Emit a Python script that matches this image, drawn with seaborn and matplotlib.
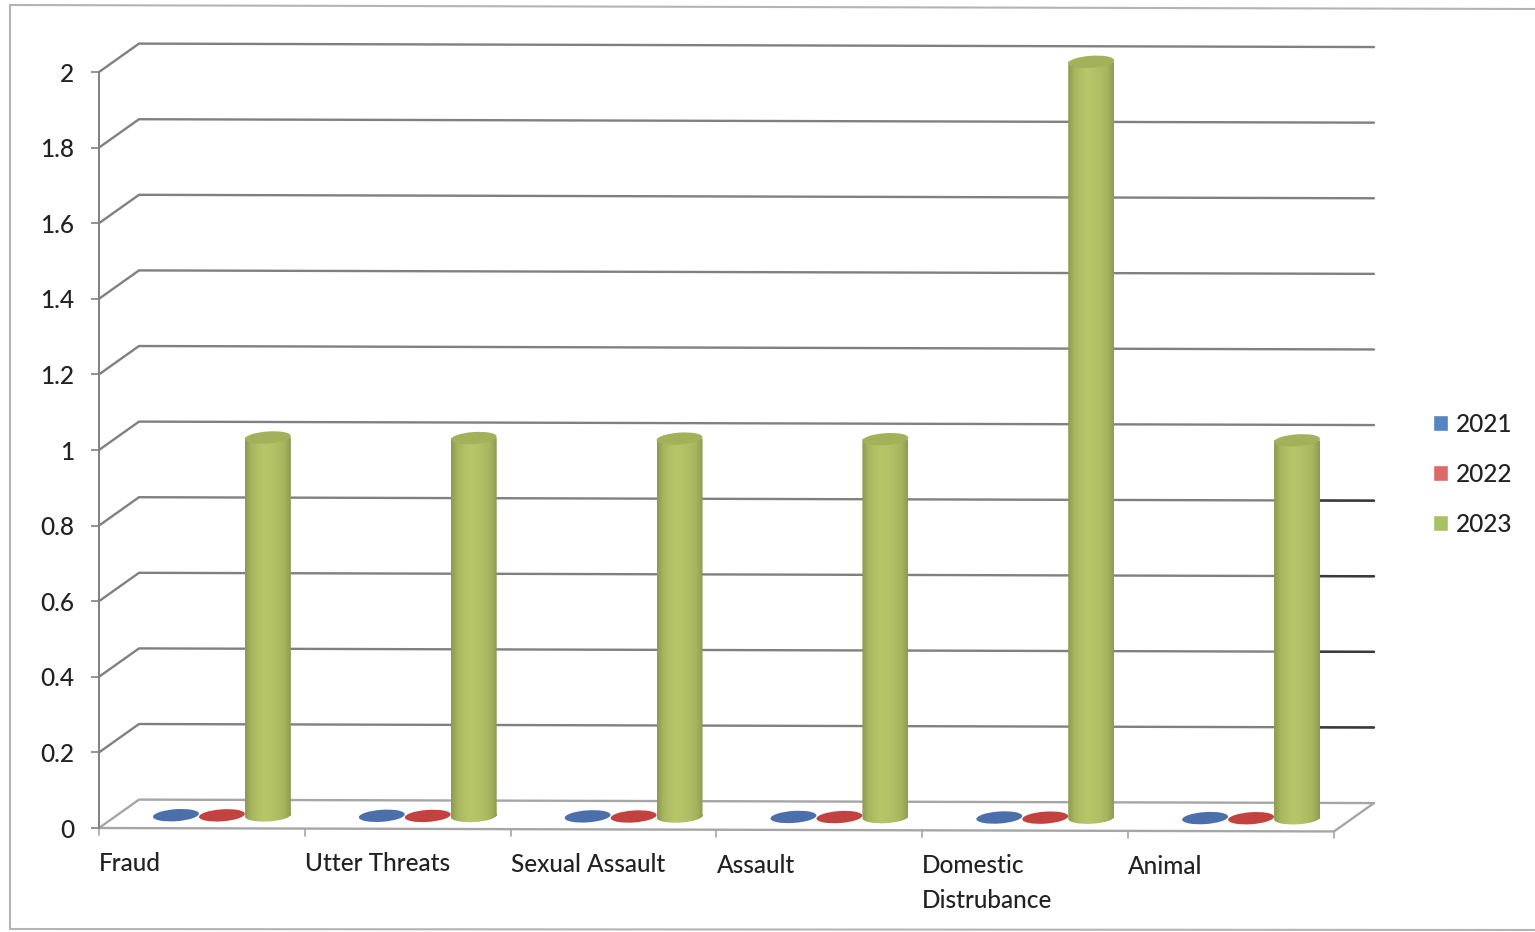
import numpy as np
import pandas as pd
import seaborn as sns
import matplotlib
matplotlib.use("Agg")
import matplotlib.pyplot as plt
from matplotlib.colors import LinearSegmentedColormap
from matplotlib.lines import Line2D
from matplotlib.patches import Ellipse
from matplotlib.path import Path
from matplotlib.transforms import Affine2D, IdentityTransform

# Incident counts per category and year
categories = ["Fraud", "Utter Threats", "Sexual Assault", "Assault",
              "Domestic\nDistrubance", "Animal"]
years = ["2021", "2022", "2023"]
counts_2021 = [0, 0, 0, 0, 0, 0]
counts_2022 = [0, 0, 0, 0, 0, 0]
counts_2023 = [1, 1, 1, 1, 2, 1]
y_ticks = [0, 0.2, 0.4, 0.6, 0.8, 1, 1.2, 1.4, 1.6, 1.8, 2]
y_tick_labels = ["0", "0.2", "0.4", "0.6", "0.8", "1", "1.2", "1.4", "1.6", "1.8", "2"]

legend_colors = ["#5585c2", "#dc6a68", "#a9c162"]
disc_colors = ["#4a6fab", "#c2423f", "#a3b15a"]
GRID = "#808080"
FLOOR = "#a6a6a6"
TEXT = "#222222"
FONT_SIZE = 17.6

W, H = 1535, 932
sns.set_theme(style="white")
plt.rcParams["font.family"] = ["Lato", "DejaVu Sans"]
plt.rcParams["font.weight"] = "medium"

df = pd.DataFrame({
    "category": categories * 3,
    "year": [y for y in years for _ in categories],
    "count": counts_2021 + counts_2022 + counts_2023,
})

fig = plt.figure(figsize=(W / 100, H / 100), dpi=100, facecolor="white")
ax = fig.add_axes([99 / W, (H - 828) / H, 1235 / W, 756 / H])
sns.barplot(data=df, x="category", y="count", hue="year", order=categories,
            hue_order=years, palette=legend_colors, saturation=1, width=0.67,
            gap=0, ax=ax, zorder=3)
ax.set_xlim(-0.5, 5.5)
ax.set_ylim(0, 2)
ax.set_xlabel("")
ax.set_ylabel("")
ax.patch.set_alpha(0)

# The whole drawing leans slightly downward toward the right
slope = 0.0028
lean = Affine2D.from_values(1, -slope, 0, 1, 0, slope * 100)
plane = ax.transData + lean
# Cylinders stand halfway into the floor's depth
mid_depth = ax.transData + Affine2D().translate(20, 13) + lean

depth_x = 40 / (1235 / 6)
depth_y = 28.5 / 378
x0, x1 = -0.5, 5.5

# Wall gridlines with their diagonal run along the side wall
for v in y_ticks:
    ax.plot([x0, x0 + depth_x, x1 + depth_x], [v, v + depth_y, v + depth_y],
            color=GRID if v > 0 else FLOOR, lw=1.7, transform=plane, zorder=1,
            clip_on=False, solid_joinstyle="miter")

# Floor edges
ax.plot([x0, x1, x1 + depth_x], [0, 0, depth_y], color=FLOOR, lw=1.7,
        transform=plane, zorder=1, clip_on=False)

# Category ticks below the floor's front edge
edges = np.arange(len(categories) + 1) - 0.5
for e in edges:
    ax.plot([e, e], [0, -7 / 378], color=FLOOR, lw=1.2, transform=plane,
            zorder=1, clip_on=False)

# Cylinder faces with round shading and end caps
shade = LinearSegmentedColormap.from_list(
    "cylinder", ["#8d9b50", "#a8b75f", "#b2c166", "#b6c669", "#b4c367", "#aebd63",
                 "#a7b55e", "#8f9c52"])
gradient = np.linspace(0, 1, 64).reshape(1, -1)
for container, disc in zip(ax.containers, disc_colors):
    for rect in container:
        rect.set_transform(mid_depth)
        rect.set_clip_on(False)
        left, wid, val = rect.get_x(), rect.get_width(), rect.get_height()
        base = mid_depth.transform((left + wid / 2, 0))
        top = mid_depth.transform((left + wid / 2, val))
        a = mid_depth.transform((left, 0))
        b = mid_depth.transform((left + wid, val))
        px_w = b[0] - a[0]
        if val > 0:
            outline = Path.make_compound_path(
                Path.unit_rectangle().transformed(
                    Affine2D().scale(px_w, top[1] - base[1]).translate(a[0], base[1])),
                Path.unit_circle().transformed(
                    Affine2D().scale(px_w / 2, 6).rotate_deg(3).translate(*base)))
            im = ax.imshow(gradient, cmap=shade, aspect="auto", interpolation="bilinear",
                           extent=(left, left + wid, -0.03, val), transform=mid_depth,
                           zorder=4.5)
            im.set_clip_box(fig.bbox)
            im.set_clip_path(outline, IdentityTransform())
            rect.set_visible(False)
            ax.add_patch(Ellipse(top, px_w, 12, angle=4, facecolor=disc, edgecolor="none",
                                 transform=IdentityTransform(), zorder=5, clip_on=False))
        else:
            ax.add_patch(Ellipse(top, px_w, 12, angle=4, facecolor=disc, edgecolor="none",
                                 transform=IdentityTransform(), zorder=3.5, clip_on=False))
ax.set_xlim(-0.5, 5.5)
ax.set_ylim(0, 2)
ax.set_aspect("auto")

# Darker scan of the wall gridlines to the right of the last cylinder
last = ax.containers[2][-1]
last_right = last.get_x() + last.get_width() + 20 / (1235 / 6)
for v in y_ticks[1:5]:
    ax.plot([last_right, x1 + depth_x], [v + depth_y, v + depth_y], color="#3a3a3a",
            lw=1.7, transform=plane, zorder=2, clip_on=False)

for side in ("top", "right", "bottom"):
    ax.spines[side].set_visible(False)
ax.spines["left"].set_color(GRID)
ax.spines["left"].set_linewidth(1.4)

ax.set_yticks(y_ticks, y_tick_labels)
ax.tick_params(axis="y", length=6, width=1.2, color=GRID, pad=12, labelsize=FONT_SIZE,
               labelcolor=TEXT, left=True)
for tick in ax.yaxis.get_major_ticks():
    tick.label1.set_va("center_baseline")
ax.set_xticks(edges[:-1], categories)
ax.tick_params(axis="x", length=0, labelsize=FONT_SIZE, labelcolor=TEXT)
for i, tick in enumerate(ax.xaxis.get_major_ticks()):
    tick.set_pad(17 + 0.5 * i)
    tick.label1.set_ha("left")
    tick.label1.set_linespacing(1.6)

sns.move_legend(ax, "upper left", bbox_to_anchor=(1433 / W, 1 - 413 / H),
                bbox_transform=fig.transFigure, title=None, frameon=False, fontsize=FONT_SIZE,
                handlelength=0.62, handleheight=0.62, handletextpad=0.3, labelspacing=1.1,
                labelcolor=TEXT, borderpad=0, borderaxespad=0)

# Outer chart frame, open on the right
def px(x, y):
    return x / W, 1 - y / H

frame = [([10, 1535], [5, 9]), ([10, 10], [5, 929]), ([10, 1535], [929, 930])]
for xs, ys in frame:
    pts = [px(a, b) for a, b in zip(xs, ys)]
    fig.add_artist(Line2D([pts[0][0], pts[1][0]], [pts[0][1], pts[1][1]],
                          color="#b4b4b4", lw=1.5, transform=fig.transFigure))

fig.savefig("out.png", dpi=100, facecolor="white")
